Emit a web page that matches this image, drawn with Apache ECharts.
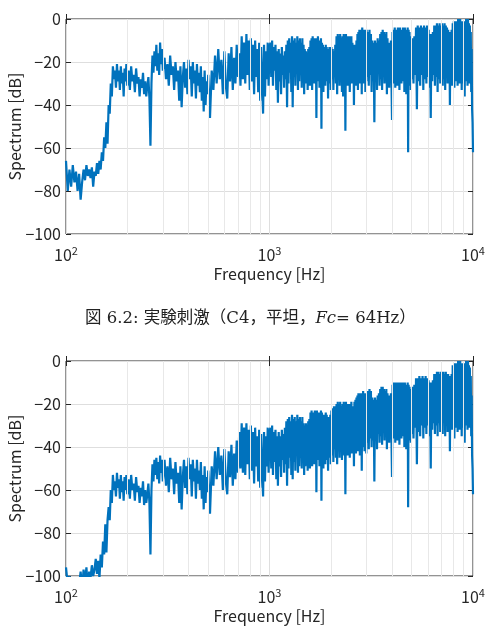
<!DOCTYPE html>
<html>
<head>
<meta charset="utf-8">
<script src="https://cdn.jsdelivr.net/npm/echarts@6/dist/echarts.min.js"></script>
<style>
  html, body { margin: 0; padding: 0; background: #fff; }
  #chart { width: 489px; height: 637px; }
</style>
</head>
<body>
<div id="chart"></div>
<script>
// frequency bins [Hz]
const freq = [
  100,102,104,106,108,110,112,114,116,118,120,122,124,126,128,130,132,134,136,138,140,142,144,146,148,150,152,154,156,158,160,162,164,166,168,170,172,174,176,178,180,182,184,186,188,190,192,194,196,198,200,
  203,206,209,212,215,218,221,224,227,230,233,236,239,242,245,248,251,254,257,260,263,266,269,272,275,278,281,284,287,290,293,296,299,
  305,310,315,320,325,330,335,340,345,350,355,360,365,370,375,380,385,390,395,400,405,410,415,420,425,430,435,440,445,450,455,460,465,470,475,480,485,490,495,500,
  510,520,530,540,550,560,570,580,590,600,610,620,630,640,650,660,670,680,690,700,710,720,730,740,750,760,770,780,790,800,810,820,830,840,850,860,870,880,890,900,910,920,930,940,950,960,970,980,990,1000,
  1010,1020,1030,1040,1050,1060,1070,1080,1090,1100,1110,1120,1130,1140,1150,1160,1170,1180,1190,1200,
  1210,1220,1230,1240,1250,1260,1270,1280,1290,1300,1310,1320,1330,1340,1350,1360,1370,1380,1390,1400,
  1410,1420,1430,1440,1450,1460,1470,1480,1490,1500,1510,1520,1530,1540,1550,1560,1570,1580,1590,1600,
  1610,1620,1630,1640,1650,1660,1670,1680,1690,1700,1710,1720,1730,1740,1750,1760,1770,1780,1790,1800,
  1810,1820,1830,1840,1850,1860,1870,1880,1890,1900,1910,1920,1930,1940,1950,1960,1970,1980,1990,2000,
  2015,2030,2045,2060,2075,2090,2105,2120,2135,2150,2165,2180,2195,2210,2225,2240,2255,2270,2285,2300,
  2315,2330,2345,2360,2375,2390,2405,2420,2435,2450,2465,2480,2495,2510,2525,2540,2555,2570,2585,2600,
  2615,2630,2645,2660,2675,2690,2705,2720,2735,2750,2765,2780,2795,2810,2825,2840,2855,2870,2885,2900,
  2915,2930,2945,2960,2975,2990,
  3000,3025,3050,3075,3100,3125,3150,3175,3200,3225,3250,3275,3300,3325,3350,3375,3400,3425,3450,3475,
  3500,3525,3550,3575,3600,3625,3650,3675,3700,3725,3750,3775,3800,3825,3850,3875,3900,3925,3950,3975,
  4000,4025,4050,4075,4100,4125,4150,4175,4200,4225,4250,4275,4300,4325,4350,4375,4400,4425,4450,4475,
  4500,4525,4550,4575,4600,4625,4650,4675,4700,4725,4750,4775,4800,4825,4850,4875,4900,4925,4950,4975,
  5000,5050,5100,5150,5200,5250,5300,5350,5400,5450,5500,5550,5600,5650,5700,5750,5800,5850,5900,5950,
  6000,6050,6100,6150,6200,6250,6300,6350,6400,6450,6500,6550,6600,6650,6700,6750,6800,6850,6900,6950,
  7000,7050,7100,7150,7200,7250,7300,7350,7400,7450,7500,7550,7600,7650,7700,7750,7800,7850,7900,7950,
  8000,8050,8100,8150,8200,8250,8300,8350,8400,8450,8500,8550,8600,8650,8700,8750,8800,8850,8900,8950,
  9000,9050,9100,9150,9200,9250,9300,9350,9400,9450,9500,9550,9600,9650,9700,9750,9800,9850,9900,9950,
  10000
];

// upper plot (flat), dB
const flatLevel = [
  -66,-80,-70,-78,-68,-76,-71,-80,-72,-84,-76,-70,-75,-68,-73,-70,-74,-69,-78,-71,-73,-67,-72,-66,-70,-62,-66,-55,-60,-48,-58,-40,-44,-30,-36,-22,-28,-24,-32,-21,-29,-24,-33,-22,-30,-25,-36,-23,-29,-21,-31,
  -24,-33,-22,-29,-26,-34,-23,-30,-27,-36,-28,-32,-25,-35,-29,-36,-31,-27,-37,-59,-30,-17,-25,-15,-22,-12,-24,-16,-26,-11,-21,-14,-24,
  -18,-28,-21,-31,-17,-26,-22,-33,-20,-29,-24,-38,-22,-41,-27,-20,-32,-23,-35,-19,-28,-22,-36,-20,-30,-24,-37,-21,-31,-25,-34,-22,-38,-27,-43,-24,-40,-29,-35,-26,
  -46,-24,-33,-17,-30,-14,-28,-19,-35,-15,-31,-37,-16,-29,-13,-33,-18,-30,-12,-27,-16,-31,-8,-28,-11,-30,-7,-26,-10,-33,-9,-29,-12,-35,-10,-27,-14,-34,-11,-38,-13,-30,-44,-12,-36,-15,-28,-11,-31,-13,
  -11,-27,-10,-31,-13,-24,-12,-33,-15,-39,-14,-29,-16,-35,-13,-26,-17,-32,-15,-28,
  -12,-41,-10,-30,-9,-25,-11,-34,-8,-41,-10,-27,-9,-31,-11,-24,-8,-33,-10,-29,
  -9,-26,-11,-32,-9,-28,-12,-35,-14,-30,-15,-27,-16,-33,-14,-25,-13,-31,-10,-28,
  -9,-33,-8,-26,-10,-30,-9,-24,-10,-46,-9,-29,-8,-27,-10,-32,-11,-26,-9,-51,
  -11,-28,-12,-34,-13,-25,-14,-31,-12,-29,-13,-26,-15,-37,-14,-30,-13,-27,-15,-33,
  -13,-28,-14,-33,-15,-26,-12,-30,-8,-35,-7,-27,-8,-31,-7,-25,-9,-34,-8,-36,
  -7,-29,-8,-52,-7,-26,-8,-31,-9,-28,-8,-34,-9,-27,-8,-30,-11,-25,-12,-40,
  -12,-29,-13,-31,-10,-26,-7,-33,-6,-28,-5,-30,-6,-25,-5,-35,-4,-27,-5,-30,
  -6,-28,-5,-34,-6,-29,
  -5,-27,-6,-31,-5,-26,-7,-34,-10,-29,-11,-48,-10,-27,-11,-33,-9,-25,-10,-31,
  -7,-28,-6,-33,-5,-26,-6,-30,-7,-27,-6,-35,-9,-28,-11,-32,-12,-26,-10,-29,
  -47,-6,-30,-5,-27,-4,-32,-5,-26,-6,-31,-4,-28,-5,-33,-4,-25,-6,-30,-5,
  -29,-4,-27,-5,-34,-4,-26,-6,-35,-5,-30,-4,-62,-5,-28,-6,-31,-8,-33,-9,
  -28,-9,-30,-8,-26,-4,-42,-3,-29,-4,-31,-3,-26,-4,-33,-3,-28,-4,-30,-3,
  -27,-5,-32,-7,-46,-7,-29,-6,-26,-3,-31,-3,-27,-2,-34,-3,-28,-2,-30,-3,
  -26,-2,-31,-3,-28,-2,-33,-3,-27,-4,-30,-5,-29,-6,-40,-6,-27,-5,-31,-2,
  -28,-1,-32,-1,-25,-2,-29,-1,-31,0,-27,-1,-30,0,-26,-1,-33,-1,-28,-2,
  -30,-1,-36,-1,-27,0,-29,-1,-31,0,-28,-2,-30,-3,-25,-6,-34,-14,-42,-48,
  -62
];

// lower plot (tilted), dB
const tiltLevel = [
  -96,-104,-100,-108,-105,-110,-106,-112,-104,-98,-106,-97,-103,-96,-105,-98,-101,-95,-100,-97,-92,-99,-93,-101,-90,-96,-84,-90,-76,-89,-74,-68,-74,-60,-66,-53,-60,-56,-63,-52,-59,-55,-64,-53,-61,-56,-65,-54,-60,-53,-62,
  -55,-64,-53,-60,-57,-65,-54,-61,-58,-66,-59,-63,-56,-67,-60,-66,-62,-57,-66,-90,-60,-48,-56,-46,-53,-45,-55,-47,-57,-44,-52,-46,-56,
  -46,-58,-49,-61,-45,-55,-50,-62,-47,-57,-52,-66,-49,-69,-54,-46,-59,-49,-62,-45,-55,-48,-63,-46,-56,-50,-64,-46,-57,-51,-60,-47,-64,-53,-69,-49,-66,-54,-61,-51,
  -71,-49,-58,-42,-55,-40,-53,-44,-60,-41,-56,-62,-42,-54,-39,-58,-43,-55,-37,-52,-33,-50,-29,-52,-31,-53,-29,-48,-32,-55,-30,-51,-33,-57,-31,-49,-35,-56,-32,-59,-34,-51,-63,-33,-56,-35,-49,-31,-52,-33,
  -31,-50,-30,-53,-33,-47,-32,-55,-35,-58,-33,-49,-35,-54,-32,-46,-34,-52,-31,-48,
  -28,-58,-27,-50,-26,-45,-28,-53,-25,-55,-27,-47,-26,-51,-28,-44,-25,-52,-27,-49,
  -26,-45,-28,-50,-26,-47,-29,-53,-30,-49,-29,-46,-30,-51,-28,-44,-27,-50,-24,-47,
  -23,-49,-24,-44,-25,-48,-23,-43,-24,-61,-23,-46,-24,-44,-25,-49,-24,-43,-23,-65,
  -24,-45,-25,-50,-26,-43,-25,-48,-24,-46,-25,-43,-26,-51,-27,-45,-26,-44,-25,-48,
  -23,-44,-22,-47,-21,-41,-21,-45,-20,-48,-19,-42,-20,-45,-19,-40,-21,-46,-20,-43,
  -19,-44,-20,-62,-19,-40,-21,-44,-20,-42,-21,-45,-20,-39,-19,-43,-22,-38,-21,-49,
  -19,-40,-18,-43,-17,-38,-16,-42,-15,-39,-16,-44,-15,-37,-16,-51,-15,-40,-14,-38,
  -16,-42,-15,-39,-17,-43,
  -15,-38,-14,-41,-13,-36,-14,-40,-17,-37,-18,-56,-17,-36,-18,-41,-16,-34,-15,-38,
  -13,-35,-12,-39,-12,-33,-13,-37,-14,-34,-13,-41,-15,-35,-16,-38,-16,-33,-15,-36,
  -54,-11,-36,-10,-33,-11,-38,-10,-32,-11,-37,-10,-34,-11,-39,-10,-31,-12,-36,-10,
  -35,-10,-32,-11,-40,-10,-33,-12,-41,-11,-36,-10,-68,-11,-34,-12,-37,-14,-38,-13,
  -34,-12,-36,-11,-31,-8,-48,-8,-33,-7,-35,-8,-30,-7,-36,-8,-31,-7,-34,-8,
  -30,-9,-35,-10,-50,-10,-32,-9,-29,-6,-34,-6,-30,-5,-35,-5,-29,-6,-33,-5,
  -29,-5,-34,-5,-28,-6,-35,-5,-30,-6,-33,-6,-31,-7,-42,-7,-29,-6,-32,-2,
  -30,-2,-36,-1,-27,-2,-31,-1,-33,0,-28,-1,-32,0,-27,-1,-35,-1,-29,-2,
  -31,-1,-38,-1,-28,0,-30,-1,-32,0,-29,-2,-31,-3,-27,-7,-35,-16,-44,-50,
  -62
];

const minorFreq = [200, 300, 400, 500, 600, 700, 800, 900, 2000, 3000, 4000, 5000, 6000, 7000, 8000, 9000];
const caption = '図 6.2: 実験刺激（C4，平坦，{i|Fc}= 64Hz）';

if (flatLevel.length !== freq.length || tiltLevel.length !== freq.length) {
  throw new Error('length mismatch ' + freq.length + ' ' + flatLevel.length + ' ' + tiltLevel.length);
}

const ink = '#262626';
const sans = '"Noto Sans CJK JP", "Noto Sans", sans-serif';
const serif = '"DejaVu Serif", "Noto Sans CJK JP", serif';
const plotTops = [19, 361];
const panels = [flatLevel, tiltLevel];

const grid = [];
const xAxis = [];
const yAxis = [];
const series = [];

panels.forEach((levels, i) => {
  grid.push({
    left: 66, width: 407, top: plotTops[i], height: 215,
    containLabel: false, outerBoundsMode: 'none',
    show: true, borderColor: ink, borderWidth: 1, backgroundColor: '#fff'
  });
  const xBase = {
    type: 'log', logBase: 10, min: 100, max: 10000, gridIndex: i,
    axisLine: { show: false },
    axisTick: { inside: true, length: 5, lineStyle: { color: ink } }
  };
  xAxis.push({
    ...xBase,
    name: 'Frequency [Hz]',
    nameLocation: 'middle',
    nameGap: 32,
    nameMoveOverlap: false,
    nameTextStyle: { fontFamily: sans, fontSize: 16, color: ink, verticalAlign: 'top' },
    axisLabel: {
      color: ink, fontFamily: sans, fontSize: 16, margin: 11,
      formatter: v => '10{s|' + Math.round(Math.log10(v)) + '}',
      rich: { s: { fontFamily: sans, fontSize: 11, color: ink, verticalAlign: 'top', padding: [0, 0, 9, 0] } }
    },
    splitLine: { show: true, lineStyle: { color: '#dedede', width: 1 } }
  });
  xAxis.push({ ...xBase, position: 'top', axisLabel: { show: false }, splitLine: { show: false } });

  const yBase = {
    type: 'value', min: -100, max: 0, interval: 20, gridIndex: i,
    axisLine: { show: false },
    axisTick: { inside: true, length: 5, lineStyle: { color: ink } }
  };
  yAxis.push({
    ...yBase,
    name: 'Spectrum [dB]',
    nameLocation: 'middle',
    nameGap: 43,
    nameMoveOverlap: false,
    nameTextStyle: { fontFamily: sans, fontSize: 16, color: ink },
    axisLabel: {
      color: ink, fontFamily: sans, fontSize: 16, margin: 5,
      formatter: v => String(v).replace('-', '\u2212')
    },
    splitLine: { show: true, lineStyle: { color: '#dedede', width: 1 } }
  });
  yAxis.push({ ...yBase, position: 'right', axisLabel: { show: false }, splitLine: { show: false } });

  series.push({
    type: 'line', xAxisIndex: 2 * i, yAxisIndex: 2 * i,
    data: [], z: 1, silent: true,
    markLine: {
      silent: true, symbol: 'none', animation: false,
      label: { show: false },
      lineStyle: { color: '#e8e8e8', type: 'solid', width: 1 },
      data: minorFreq.map(f => ({ xAxis: f }))
    }
  });
  series.push({
    type: 'line', xAxisIndex: 2 * i, yAxisIndex: 2 * i,
    data: freq.map((f, k) => [f, levels[k]]),
    showSymbol: false, symbol: 'none', clip: true, z: 3,
    lineStyle: { color: '#0072bd', width: 2.2, join: 'bevel' }
  });
});

const chart = echarts.init(document.getElementById('chart'));
chart.setOption({
  animation: false,
  backgroundColor: '#fff',
  title: {
    text: caption,
    left: 80,
    top: 305,
    textStyle: {
      fontFamily: serif, fontSize: 16.5, fontWeight: 'normal', color: '#222',
      rich: { i: { fontFamily: serif, fontSize: 16.5, fontStyle: 'italic', color: '#222' } }
    }
  },
  grid,
  xAxis,
  yAxis,
  series
});
</script>
</body>
</html>
